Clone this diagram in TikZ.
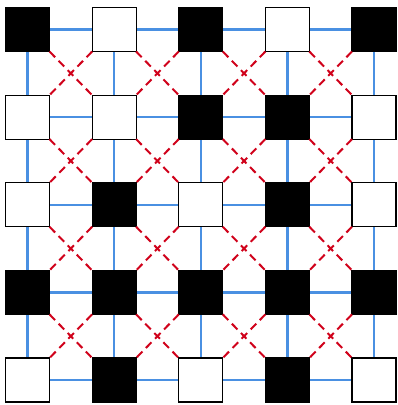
\documentclass[tikz,border=0pt]{standalone}
\usetikzlibrary{calc}
\definecolor{gridblue}{HTML}{4A90E2}
\definecolor{diagred}{HTML}{D0021B}
\tikzset{
  cell/.style={draw=black, line width=1.2pt, minimum size=44pt, inner sep=0pt, outer sep=0pt},
  blk/.style={cell, fill=black},
  wht/.style={cell, fill=white},
  gridline/.style={gridblue, line width=2.4pt},
  diagline/.style={diagred, line width=2pt, dash pattern=on 8pt off 5pt},
}
\begin{document}
\begin{tikzpicture}[x=1pt,y=-1pt]
\useasboundingbox (0,0) rectangle (398,405);
% coordinates of centres
\foreach \i in {0,...,4}{
  \foreach \j in {0,...,4}{
    \coordinate (c\i\j) at ({27.5+86.625*\i},{29.5+87.625*\j});
  }
}
% blue grid lines
\foreach \j in {0,...,4}{
  \draw[gridline] (c0\j) -- (c4\j);
  \draw[gridline] (c\j0) -- (c\j4);
}
% squares (1 = black), rows top to bottom
\foreach \row [count=\j from 0] in {{1,0,1,0,1},{0,0,1,1,0},{0,1,0,1,0},{1,1,1,1,1},{0,1,0,1,0}}{
  \foreach \v [count=\i from 0] in \row{
    \ifnum\v=1
      \node[blk] (s\i\j) at (c\i\j) {};
    \else
      \node[wht] (s\i\j) at (c\i\j) {};
    \fi
  }
}
% red dashed diagonals
\foreach \i/\ii in {0/1,1/2,2/3,3/4}{
  \foreach \j/\jj in {0/1,1/2,2/3,3/4}{
    \draw[diagline] (s\i\j.south east) -- (s\ii\jj.north west);
    \draw[diagline] (s\ii\j.south west) -- (s\i\jj.north east);
  }
}
\end{tikzpicture}
\end{document}
